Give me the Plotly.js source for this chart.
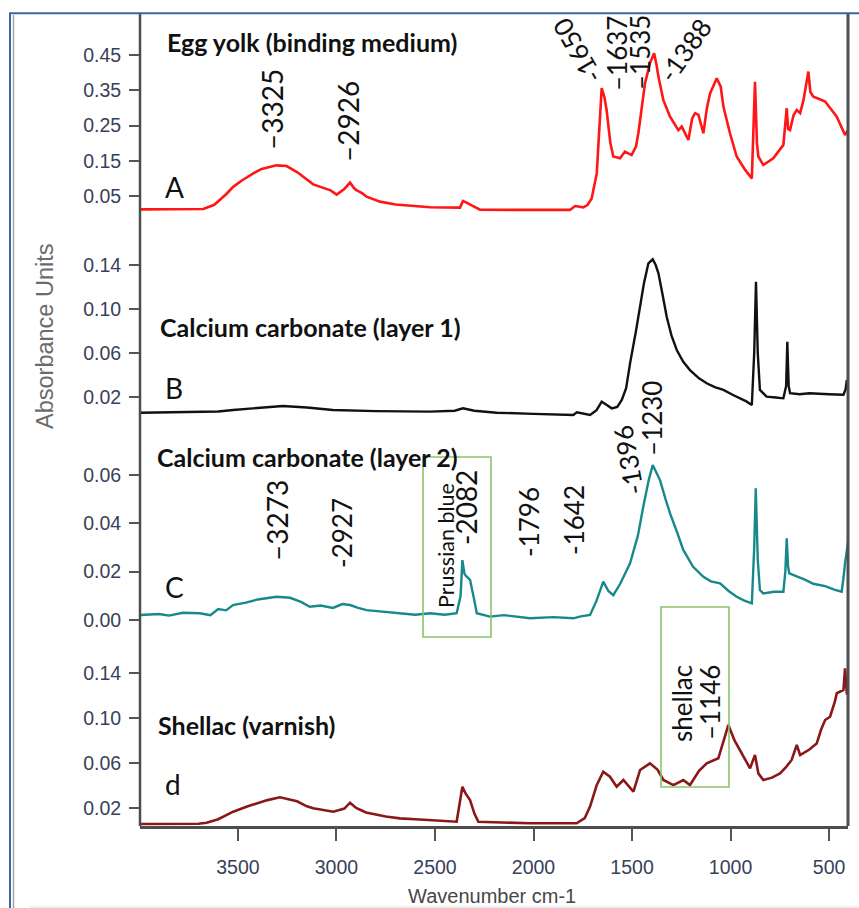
<!DOCTYPE html>
<html><head><meta charset="utf-8">
<script src="https://cdn.plot.ly/plotly-3.0.1.min.js"></script>
<style>html,body{margin:0;padding:0;background:#fff;}#chart{width:859px;height:908px;}</style>
</head><body><div id="chart"></div>
<script>
// ---------- DATA ----------
const eggWn  = [3997,3800,3676,3620,3560,3524,3480,3422,3380,3304,3253,3200,3150,3118,3067,3030,2999,2960,2931,2910,2897,2870,2847,2779,2700,2600,2525,2373,2358,2340,2306,2272,2018,1815,1789,1747,1725,1705,1679,1665,1654,1640,1629,1610,1595,1561,1536,1502,1480,1468,1450,1434,1409,1395,1388,1375,1366,1341,1320,1307,1265,1248,1214,1195,1180,1163,1138,1120,1104,1070,1050,1036,1003,969,926,892,876,866,859,834,783,732,715,708,698,680,664,647,630,605,595,580,550,520,461,419,404];
const eggAbs = [0.012,0.012,0.013,0.025,0.055,0.076,0.094,0.114,0.127,0.137,0.135,0.118,0.095,0.083,0.073,0.066,0.054,0.070,0.088,0.072,0.066,0.058,0.048,0.034,0.026,0.021,0.018,0.017,0.036,0.031,0.020,0.011,0.0105,0.0105,0.0216,0.018,0.025,0.043,0.114,0.250,0.356,0.330,0.294,0.200,0.162,0.157,0.176,0.166,0.190,0.228,0.300,0.370,0.427,0.450,0.455,0.420,0.388,0.322,0.290,0.275,0.237,0.247,0.209,0.270,0.285,0.280,0.228,0.300,0.341,0.384,0.360,0.303,0.228,0.162,0.124,0.100,0.374,0.200,0.162,0.138,0.157,0.195,0.299,0.240,0.237,0.280,0.294,0.285,0.322,0.403,0.345,0.332,0.325,0.318,0.275,0.223,0.237];

const cc1Wn  = [3997,3700,3600,3524,3400,3272,3150,3018,2800,2525,2400,2358,2300,2187,2000,1798,1780,1713,1680,1654,1630,1603,1575,1552,1530,1510,1480,1459,1440,1417,1395,1380,1366,1345,1324,1300,1273,1240,1206,1160,1121,1080,1036,990,952,920,892,880,871,862,851,817,770,732,718,712,705,698,650,600,500,427,416,410];
const cc1Abs = [0.0057,0.0062,0.0068,0.0082,0.0102,0.0118,0.0105,0.0082,0.0072,0.0067,0.0075,0.0097,0.0075,0.0057,0.0047,0.0036,0.0060,0.0036,0.0080,0.0157,0.0130,0.0097,0.0110,0.0173,0.0280,0.0506,0.0800,0.1021,0.1230,0.1415,0.1452,0.1400,0.1325,0.1130,0.0930,0.0760,0.0627,0.0520,0.0445,0.0370,0.0325,0.0290,0.0264,0.0220,0.0188,0.0160,0.0127,0.0600,0.1248,0.0600,0.0264,0.0203,0.0195,0.0188,0.0300,0.0703,0.0300,0.0234,0.0225,0.0234,0.0225,0.0220,0.0270,0.0355];

const cc2Wn  = [3997,3900,3850,3780,3693,3640,3600,3560,3525,3460,3400,3304,3236,3180,3135,3080,3018,2970,2931,2890,2847,2780,2678,2600,2525,2450,2390,2370,2361,2350,2339,2322,2300,2288,2221,2150,2018,1900,1798,1760,1713,1680,1646,1620,1595,1560,1510,1470,1443,1415,1395,1375,1358,1330,1307,1270,1240,1190,1138,1100,1053,1010,969,930,892,880,872,862,851,834,780,732,722,715,708,702,660,620,580,520,470,436,426,419,402];
const cc2Abs = [0.0021,0.0025,0.0018,0.0030,0.0028,0.0020,0.0045,0.0040,0.0062,0.0072,0.0085,0.0096,0.0092,0.0075,0.0055,0.0060,0.0050,0.0066,0.0062,0.0050,0.0041,0.0036,0.0028,0.0022,0.0028,0.0022,0.0028,0.0100,0.0248,0.0190,0.0179,0.0166,0.0080,0.0028,0.0014,0.0020,0.0007,0.0012,0.0007,0.0015,0.0021,0.0080,0.0159,0.0120,0.0103,0.0150,0.0235,0.0350,0.0469,0.0580,0.0641,0.0610,0.0579,0.0500,0.0441,0.0360,0.0290,0.0220,0.0179,0.0160,0.0152,0.0120,0.0096,0.0080,0.0069,0.0300,0.0545,0.0250,0.0124,0.0110,0.0117,0.0117,0.0200,0.0338,0.0220,0.0193,0.0180,0.0166,0.0150,0.0140,0.0125,0.0117,0.0180,0.0235,0.0331];

const shWn  = [3997,3700,3659,3600,3524,3450,3350,3287,3200,3150,3118,3050,3016,2960,2931,2900,2850,2750,2678,2600,2525,2390,2361,2345,2322,2300,2280,2018,1781,1740,1713,1680,1646,1612,1578,1544,1493,1459,1409,1370,1341,1290,1240,1206,1160,1121,1062,1040,1011,980,943,901,876,859,834,790,749,720,690,664,647,600,563,540,520,495,470,461,427,419,410,404];
const shAbs = [0.0058,0.0060,0.0069,0.0100,0.0167,0.0215,0.0270,0.0295,0.0260,0.0215,0.0197,0.0180,0.0167,0.0195,0.0247,0.0200,0.0160,0.0125,0.0108,0.0100,0.0093,0.0078,0.0389,0.0330,0.0271,0.0150,0.0078,0.0064,0.0064,0.0110,0.0212,0.0400,0.0523,0.0478,0.0389,0.0449,0.0345,0.0538,0.0597,0.0540,0.0449,0.0404,0.0449,0.0404,0.0530,0.0597,0.0642,0.0780,0.0938,0.0800,0.0686,0.0553,0.0671,0.0508,0.0449,0.0470,0.0508,0.0560,0.0627,0.0760,0.0671,0.0720,0.0773,0.0900,0.0982,0.1011,0.1150,0.1220,0.1249,0.1442,0.1220,0.1220];

const xTicks   = [3500,3000,2500,2000,1500,1000,500];
const yTicksA  = [0.05,0.15,0.25,0.35,0.45];
const yTicksB  = [0.02,0.06,0.10,0.14];
const yTicksC  = [0.00,0.02,0.04,0.06];
const yTicksD  = [0.02,0.06,0.10,0.14];

const panelTitles = ["Egg yolk (binding medium)","Calcium carbonate (layer 1)","Calcium carbonate (layer 2)","Shellac (varnish)"];
const panelLetters = ["A","B","C","d"];
const peakLabelsA = ["\u20133325","\u20132926","-1650","\u20131637","\u20131535","-1388"];
const peakLabelsC = ["\u20133273","-2927","-2082","-1796","-1642","-1396","\u20131230"];
const peakLabelsD = ["\u20131146"];
const boxLabels = ["Prussian blue","shellac"];
const xTitle = "Wavenumber cm-1";
const yTitle = "Absorbance Units";

// ---------- LAYOUT HELPERS ----------
const L=140, R=848, T=13, B=826;
const px = x => (x-L)/(R-L);
const py = y => (B-y)/(B-T);
function rng(topPx, botPx, v1, y1, v2, y2){
  const k = (v1-v2)/(y2-y1);
  return [v2 - (botPx-y2)*k, v1 + (y1-topPx)*k];
}
const tickFont = {family:"Liberation Sans, Arial, sans-serif", size:19.5, color:"#38415a"};
function yax(domTop, domBot, range, ticks){
  return {domain:[py(domBot), py(domTop)], range:range, anchor:'x', tickvals:ticks,
    tickformat:'.2f', ticks:'outside', ticklen:10, tickwidth:2, tickcolor:'#555',
    showline:false, showgrid:false, zeroline:false, tickfont:tickFont, ticklabelstandoff:4, fixedrange:true};
}

const traces = [
  {x:eggWn, y:eggAbs, yaxis:'y',  type:'scatter', mode:'lines', line:{color:'#ff1616', width:2.6}},
  {x:cc1Wn, y:cc1Abs, yaxis:'y2', type:'scatter', mode:'lines', line:{color:'#111111', width:2.4}},
  {x:cc2Wn, y:cc2Abs, yaxis:'y3', type:'scatter', mode:'lines', line:{color:'#17898a', width:2.4}},
  {x:shWn,  y:shAbs,  yaxis:'y4', type:'scatter', mode:'lines', line:{color:'#8b1818', width:2.6}}
];

const lab = {family:"Lato, 'Open Sans', sans-serif", size:28, color:'#111'};
const labS = {family:"Lato, 'Open Sans', sans-serif", size:26, color:'#111'};
function ann(text, x, y, angle, font, anchor){
  return {text:text, x:px(x), y:py(y), xref:'paper', yref:'paper', showarrow:false,
    textangle:angle||0, font:font, xanchor:anchor||'center', yanchor:'middle'};
}
const titleFont = {family:"Lato, sans-serif", size:25, color:'#111', weight:'bold'};
const letterFont = {family:"Lato, sans-serif", size:28, color:'#111'};
const annotations = [
  ann(panelTitles[0],165,42,0,titleFont,'left'),
  ann(panelTitles[1],158,327,0,titleFont,'left'),
  ann(panelTitles[2],155,457,0,titleFont,'left'),
  ann(panelTitles[3],156,725,0,titleFont,'left'),
  ann(panelLetters[0],174,187,0,letterFont),
  ann(panelLetters[1],174,388,0,letterFont),
  ann(panelLetters[2],174,587,0,letterFont),
  ann(panelLetters[3],173,784,0,letterFont),
  ann(peakLabelsA[0],272,110,-90,lab),
  ann(peakLabelsA[1],348,122,-90,lab),
  ann(peakLabelsA[2],577,51,-120,labS),
  ann(peakLabelsA[3],617,54,-90,labS),
  ann(peakLabelsA[4],640,53,-90,labS),
  ann(peakLabelsA[5],685,50,-55,labS),
  ann(peakLabelsC[0],277,521,-90,lab),
  ann(peakLabelsC[1],342,533,-90,labS),
  ann(peakLabelsC[2],466,508,-90,lab),
  ann(peakLabelsC[3],529,522,-90,labS),
  ann(peakLabelsC[4],574,520,-90,labS),
  ann(peakLabelsC[5],628,460,-100,labS),
  ann(peakLabelsC[6],652,419,-90,labS),
  ann(peakLabelsD[0],710,703,-90,labS),
  ann(boxLabels[0],446,546,-90,{family:"Lato, sans-serif", size:21.5, color:'#111'}),
  ann(boxLabels[1],682,704,-90,labS),
  ann(yTitle,45,336,-90,{family:"Liberation Sans, Arial, sans-serif", size:23.5, color:'#6b6b6b'}),
  ann(xTitle,492,896,0,{family:"Liberation Sans, Arial, sans-serif", size:20, color:'#474747'})
];

function seg(x0,y0,x1,y1,color,width){
  return {type:'line', xref:'paper', yref:'paper', x0:px(x0), y0:py(y0), x1:px(x1), y1:py(y1), line:{color:color, width:width}};
}
function box(x0,y0,x1,y1){
  return {type:'rect', xref:'paper', yref:'paper', x0:px(x0), y0:py(y1), x1:px(x1), y1:py(y0), line:{color:'#8cc46c', width:1.6}, fillcolor:'rgba(0,0,0,0)'};
}
const shapes = [
  seg(140,13,140,826,'#4d4d4d',2.5),
  seg(848,13,848,826,'#4d4d4d',3),
  seg(9,13.3,859,13.3,'#3f659f',2),
  seg(10,13,10,908,'#3f659f',2),
  seg(13.5,15,13.5,908,'#a5a5a5',1.5),
  seg(30,907,859,907,'#dddddd',1),
  box(423,457,491,637),
  box(661,607,729,787)
];

const layout = {
  width:859, height:908, margin:{l:L, r:859-R, t:T, b:908-B},
  paper_bgcolor:'#fff', plot_bgcolor:'#fff', showlegend:false,
  xaxis:{range:[3997,404], anchor:'y4', tickvals:xTicks, ticks:'outside', ticklen:12, tickwidth:2, tickcolor:'#555',
    showline:true, linewidth:2.5, linecolor:'#4d4d4d', showgrid:false, zeroline:false, tickfont:tickFont, ticklabelstandoff:10},
  yaxis:  yax(13,225, rng(13,225,0.45,55,0.05,196), yTicksA),
  yaxis2: yax(225,430, rng(225,430,0.14,265,0.02,397), yTicksB),
  yaxis3: yax(430,640, rng(430,640,0.06,475,0.00,620), yTicksC),
  yaxis4: yax(640,826, rng(640,826,0.14,673,0.02,808), yTicksD),
  annotations:annotations, shapes:shapes
};
Plotly.newPlot('chart', traces, layout, {staticPlot:true, displayModeBar:false});
</script></body></html>
